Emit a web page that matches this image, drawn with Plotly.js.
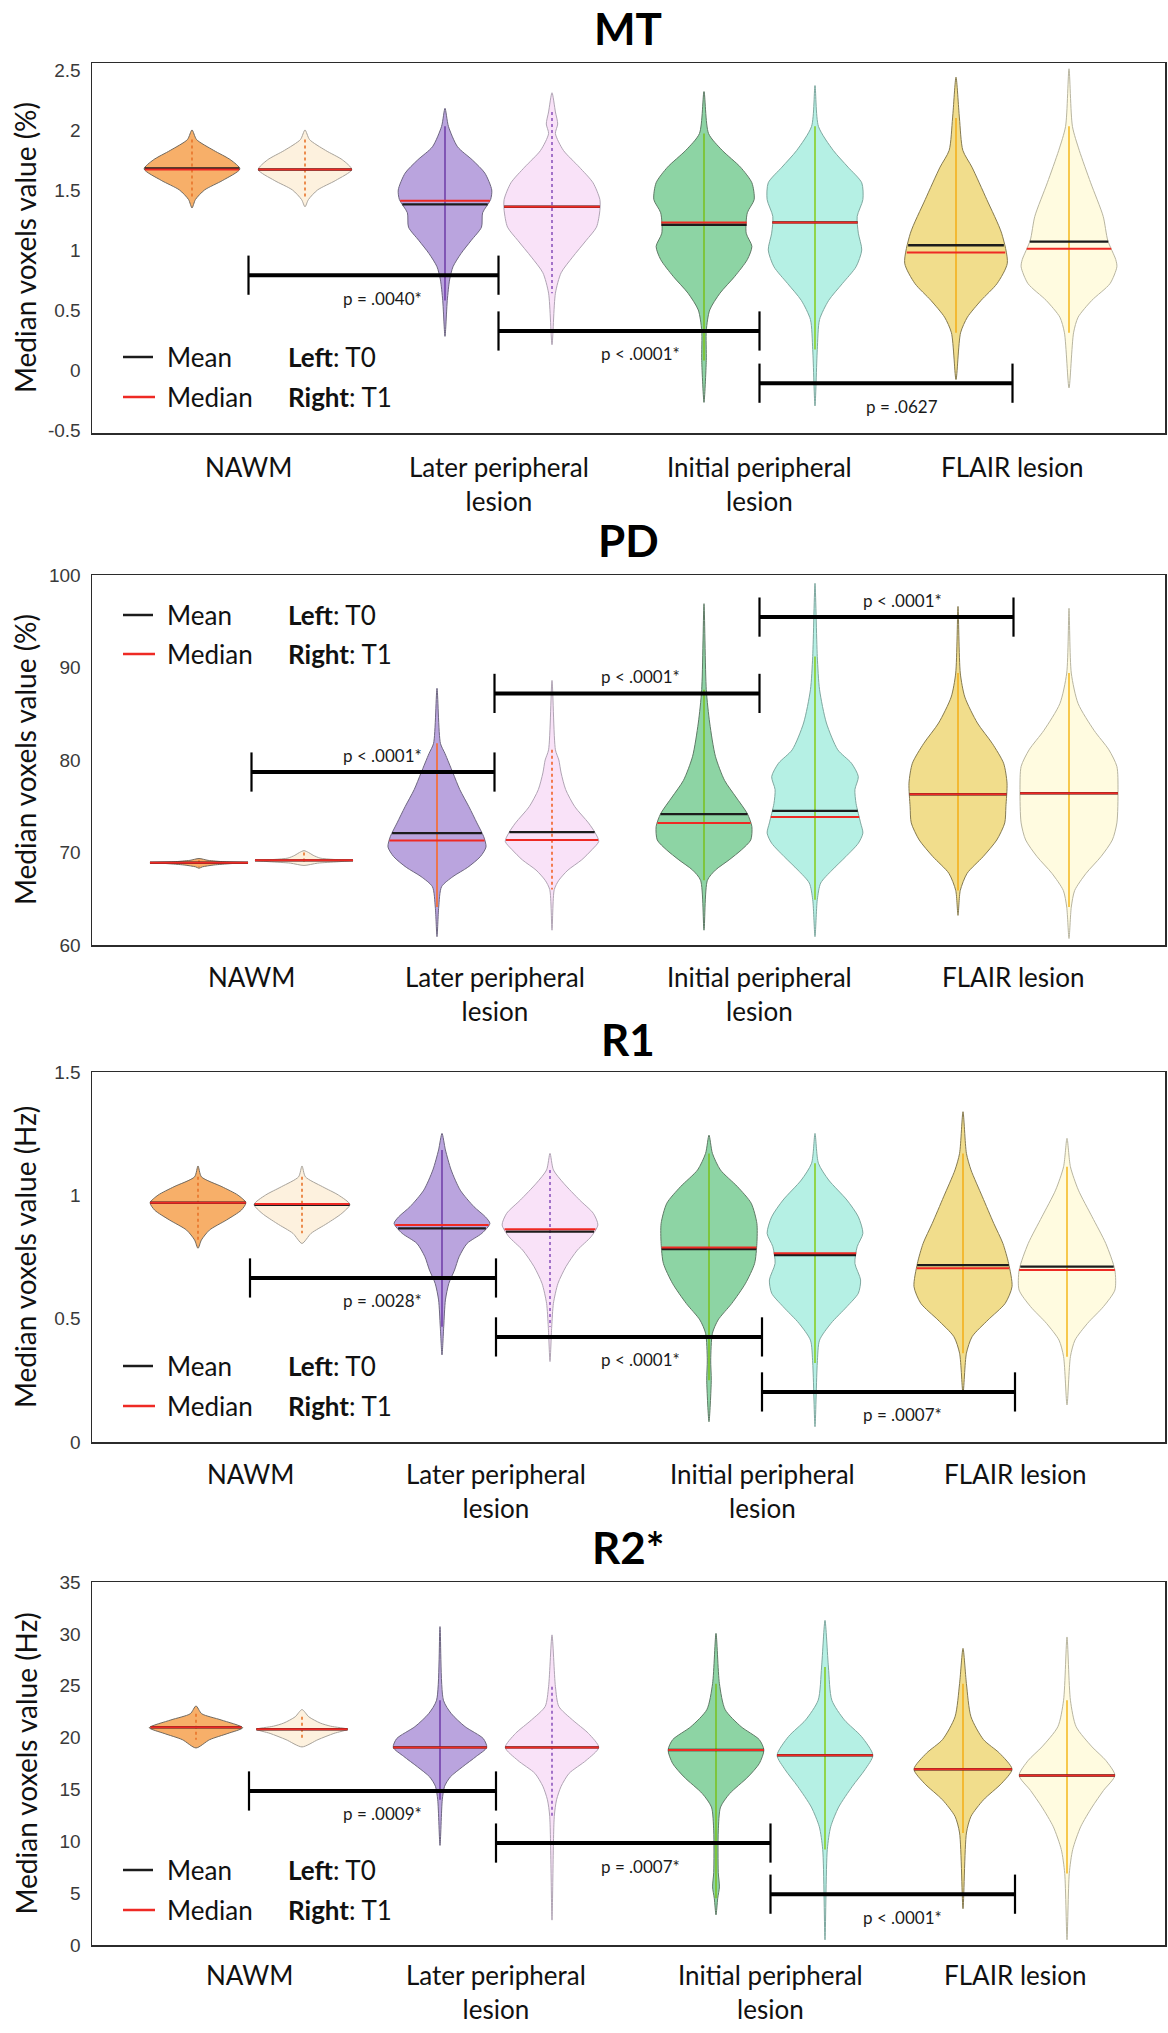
<!DOCTYPE html>
<html><head><meta charset="utf-8">
<script src="https://cdn.plot.ly/plotly-3.0.1.min.js"></script>
<style>html,body{margin:0;padding:0;background:#fff}</style>
</head><body>
<div id="chart" style="width:1168px;height:2033px"></div>
<script>
// ---------------- DATA ----------------
const categories = ["NAWM", "Later peripheral<br>lesion", "Initial peripheral<br>lesion", "FLAIR lesion"];
const panelTitles = ["MT", "PD", "R1", "R2*"];
const yTitles = ["Median voxels value (%)", "Median voxels value (%)", "Median voxels value (Hz)", "Median voxels value (Hz)"];

// Violin density profiles: [value, relative density] from top tip to bottom tip
// order: NAWM T0, NAWM T1, Later T0, Later T1, Initial T0, Initial T1, FLAIR T0, FLAIR T1
const mtDensity = [
 [[2.0,0],[1.92,4],[1.83,19],[1.75,34],[1.675,42],[1.58,27],[1.5,11],[1.42,3],[1.35,0]],
 [[2.0,0],[1.92,4],[1.83,18],[1.75,33],[1.67,41],[1.58,27],[1.5,11],[1.42,3],[1.36,0]],
 [[2.18,0],[2.03,3],[1.86,11],[1.75,24],[1.64,35],[1.5,41],[1.42,40],[1.31,33],[1.19,32],[1.08,23],[0.97,14],[0.86,7],[0.75,4],[0.58,2],[0.28,0]],
 [[2.31,0],[2.15,3],[2.05,5],[1.97,3],[1.83,10],[1.69,24],[1.56,36],[1.42,42],[1.33,42],[1.19,39],[1.08,30],[0.94,18],[0.81,8],[0.64,3],[0.21,0]],
 [[2.32,0],[1.97,4],[1.83,16],[1.69,32],[1.56,42],[1.42,44],[1.31,38],[1.14,37],[1.03,42],[0.92,38],[0.78,27],[0.64,14],[0.5,5],[0.33,2],[0.08,2],[-0.27,0]],
 [[2.37,0],[2.03,3],[1.83,16],[1.69,29],[1.56,41],[1.42,42],[1.28,37],[1.14,38],[1.0,41],[0.86,36],[0.72,24],[0.58,12],[0.42,4],[0.17,2],[-0.3,0]],
 [[2.44,0],[2.1,3],[1.83,6],[1.69,14],[1.42,27],[1.14,40],[0.89,45],[0.72,36],[0.58,22],[0.44,10],[0.31,4],[-0.08,0]],
 [[2.51,0],[2.03,3],[1.83,9],[1.56,19],[1.28,30],[1.08,34],[0.92,41],[0.86,42],[0.72,36],[0.58,20],[0.44,8],[0.31,4],[-0.15,0]]
];
const mtMean   = [1.68, 1.67, 1.38, 1.36, 1.21, 1.23, 1.04, 1.07];
const mtMedian = [1.67, 1.67, 1.41, 1.36, 1.23, 1.23, 0.98, 1.01];

const pdDensity = [
 [[69.35,0],[69.15,8],[69.0,22],[68.9,43],[68.8,28],[68.65,13],[68.45,3],[68.3,0]],
 [[70.2,0],[70.0,4],[69.7,8],[69.4,14],[69.25,26],[69.15,43],[69.0,30],[68.85,12],[68.6,0]],
 [[87.75,0],[81.8,3],[80.7,7],[78.6,14],[76.8,20],[74.95,28],[73.2,35],[71.7,41],[70.6,43],[69.55,38],[68.4,27],[67.4,14],[66.3,4],[64.1,1.5],[60.9,0]],
 [[88.6,0],[81.1,3],[80.0,6],[78.6,8],[76.8,12],[74.95,20],[73.2,32],[72.1,38],[71.2,41],[70.3,35],[69.2,26],[68.1,14],[67.0,6],[66.0,2],[61.6,0]],
 [[96.9,0],[87.6,2],[84.0,5],[80.4,10],[77.8,18],[76.0,28],[74.2,38],[72.8,42],[71.35,41],[70.3,33],[69.2,22],[68.1,10],[67.0,3],[61.6,0]],
 [[99.1,0],[91.2,2],[87.6,4],[84.0,10],[81.1,20],[79.65,32],[78.2,38],[76.8,35],[75.3,36],[73.2,40],[72.1,42],[71.0,38],[69.55,27],[68.1,15],[66.7,5],[64.9,2],[60.9,0]],
 [[96.6,0],[89.4,2],[86.8,6],[84.0,17],[81.8,30],[79.65,40],[77.5,43],[74.95,42],[73.2,41],[71.35,34],[69.55,22],[67.75,8],[65.9,2],[63.2,0]],
 [[96.4,0],[89.4,2],[86.1,8],[83.2,22],[81.1,35],[79.3,42],[76.8,43],[73.2,42],[71.35,38],[69.55,28],[67.75,15],[65.9,5],[64.1,2],[60.7,0]]
];
const pdMean   = [68.9, 69.15, 72.1, 72.2, 74.15, 74.5, 76.3, 76.4];
const pdMedian = [68.9, 69.15, 71.3, 71.35, 73.2, 73.85, 76.3, 76.4];

const r1Density = [
 [[1.119,0],[1.075,3],[1.035,21],[1.001,35],[0.970,42],[0.940,38],[0.900,25],[0.859,10],[0.819,3],[0.785,0]],
 [[1.119,0],[1.075,3],[1.035,18],[1.001,32],[0.963,42],[0.927,35],[0.886,22],[0.846,8],[0.805,0]],
 [[1.251,0],[1.184,3],[1.103,8],[1.021,16],[0.954,28],[0.913,38],[0.886,42],[0.846,35],[0.805,22],[0.751,15],[0.697,11],[0.643,6],[0.576,3],[0.467,1.5],[0.353,0]],
 [[1.170,0],[1.103,3],[1.049,12],[0.981,26],[0.927,38],[0.880,42],[0.832,36],[0.778,24],[0.711,14],[0.643,7],[0.562,3],[0.467,1.5],[0.326,0]],
 [[1.244,0],[1.170,3],[1.103,10],[1.035,25],[0.968,37],[0.886,42],[0.805,42],[0.724,40],[0.643,32],[0.562,20],[0.495,8],[0.441,3],[0.332,1.5],[0.25,2],[0.082,0]],
 [[1.251,0],[1.130,3],[1.062,12],[0.981,28],[0.913,38],[0.846,42],[0.792,37],[0.724,35],[0.657,40],[0.603,38],[0.549,28],[0.481,14],[0.413,4],[0.32,2],[0.062,0]],
 [[1.339,0],[1.170,3],[1.103,7],[0.994,17],[0.886,27],[0.805,35],[0.724,40],[0.630,43],[0.562,37],[0.495,22],[0.427,8],[0.360,3],[0.197,0]],
 [[1.231,0],[1.116,3],[1.021,10],[0.913,22],[0.805,34],[0.697,42],[0.616,42],[0.549,32],[0.481,18],[0.413,7],[0.346,3],[0.150,0]]
];
const r1Mean   = [0.970, 0.962, 0.866, 0.853, 0.782, 0.758, 0.717, 0.711];
const r1Median = [0.970, 0.965, 0.880, 0.863, 0.789, 0.765, 0.704, 0.697];

const r2Density = [
 [[23.05,0],[22.3,5],[21.7,22],[20.95,41],[20.4,28],[19.8,12],[19.0,0]],
 [[22.7,0],[22.0,6],[21.4,16],[21.1,25],[20.8,40],[20.4,28],[19.8,14],[19.1,0]],
 [[30.7,0],[23.6,3],[22.3,10],[21.05,22],[19.9,38],[19.05,41],[18.2,32],[17.2,20],[16.2,9],[15.3,4],[14.0,2],[9.6,0]],
 [[29.9,0],[24.9,3],[23.0,6],[21.7,18],[20.4,32],[19.05,41],[17.8,30],[16.55,15],[15.3,8],[14.0,4],[12.4,2],[2.4,0]],
 [[30.05,0],[25.2,3],[22.7,8],[21.05,22],[19.8,38],[18.8,42],[17.5,38],[16.2,28],[14.6,12],[13.3,4],[11.0,2],[7.0,2],[5.6,3],[4.5,1.5],[2.9,0]],
 [[31.3,0],[26.8,3],[23.6,6],[21.7,17],[20.1,32],[18.3,42],[16.9,35],[15.3,24],[13.3,12],[11.4,5],[9.2,2],[0.5,0]],
 [[28.6,0],[25.2,3],[22.0,7],[19.8,18],[18.5,32],[16.95,43],[15.6,34],[14.0,18],[12.4,7],[10.8,3],[3.5,0]],
 [[29.7,0],[23.6,3],[21.05,8],[19.1,22],[17.8,34],[16.35,42],[14.9,32],[13.3,22],[11.4,12],[9.2,5],[6.9,2],[0.5,0]]
];
const r2Mean   = [21.0, 20.8, 19.05, 19.05, 18.8, 18.3, 16.95, 16.35];
const r2Median = [21.0, 20.8, 19.05, 19.05, 18.8, 18.3, 16.95, 16.35];

// significance brackets (between consecutive categories)
const mtBracketY = [0.79, 0.325, -0.11];
const mtPValues  = ["p = .0040*", "p < .0001*", "p = .0627"];
const pdBracketY = [78.7, 87.2, 95.45];
const pdPValues  = ["p < .0001*", "p < .0001*", "p < .0001*"];
const r1BracketY = [0.665, 0.426, 0.203];
const r1PValues  = ["p = .0028*", "p < .0001*", "p = .0007*"];
const r2BracketY = [14.85, 9.83, 4.9];
const r2PValues  = ["p = .0009*", "p = .0007*", "p < .0001*"];

// tick labels
const mtTicks = [-0.5, 0, 0.5, 1, 1.5, 2, 2.5];
const mtTickText = ["-0.5", "0", "0.5", "1", "1.5", "2", "2.5"];
const pdTicks = [60, 70, 80, 90, 100];
const pdTickText = ["60", "70", "80", "90", "100"];
const r1Ticks = [0, 0.5, 1, 1.5];
const r1TickText = ["0", "0.5", "1", "1.5"];
const r2Ticks = [0, 5, 10, 15, 20, 25, 30, 35];
const r2TickText = ["0", "5", "10", "15", "20", "25", "30", "35"];

// ---------------- LAYOUT / STYLE ----------------
const W = 1168, H = 2033;
const BOX_L = 92, BOX_R = 1165;
// violin slot positions per panel (x-axis units)
const slotsMT = [1.92, 3.05, 4.45, 5.52, 7.04, 8.15, 9.56, 10.69];
const slotsPD = [1.99, 3.04, 4.37, 5.52, 7.04, 8.15, 9.58, 10.69];
const slotsR1 = [1.98, 3.02, 4.42, 5.50, 7.09, 8.15, 9.63, 10.67];
const slotsR2 = [1.96, 3.02, 4.40, 5.52, 7.16, 8.25, 9.63, 10.67];
const pLabelX = [3.82, 6.40, 9.02];
const DSCALE = 0.0114;
const fills = ['#F7AF69', '#FDF1DE', '#BAA4DE', '#F9E2F8', '#8DD4A4', '#B5F0E4', '#F1DD8C', '#FFFBE0'];
const outlines = ['#70695f', '#a8a39b', '#6d6680', '#b0a4b4', '#5f7a66', '#7fa8a0', '#857a50', '#b8b5a0'];
const centerCols = ['#E8742A', '#E8742A', '#7B4CB0', '#9A66C4', '#7CC433', '#8CD23A', '#F3B52A', '#F6C23E'];
const FONT = 'Lato, "Open Sans", sans-serif';
const TFONT = 'Arial, "Liberation Sans", sans-serif';

const panels = [
 {slots: slotsMT, density: mtDensity, mean: mtMean, median: mtMedian, by: mtBracketY, pv: mtPValues, above: false,
  range: [-0.525, 2.558], tv: mtTicks, tt: mtTickText, box: [63, 433], titleY: 28, labelTop: 449, legY: [357, 397]},
 {slots: slotsPD, density: pdDensity, mean: pdMean, median: pdMedian, by: pdBracketY, pv: pdPValues, above: true,
  range: [60, 100], tv: pdTicks, tt: pdTickText, box: [575, 945], titleY: 540, labelTop: 959, legY: [615, 654]},
 {slots: slotsR1, density: r1Density, mean: r1Mean, median: r1Median, by: r1BracketY, pv: r1PValues, above: false,
  range: [0, 1.5], tv: r1Ticks, tt: r1TickText, box: [1072, 1442], titleY: 1039, labelTop: 1456, legY: [1366, 1406]},
 {slots: slotsR2, density: r2Density, mean: r2Mean, median: r2Median, by: r2BracketY, pv: r2PValues, above: false,
  range: [0, 35], tv: r2Ticks, tt: r2TickText, box: [1582, 1945], titleY: 1547, labelTop: 1957, legY: [1870, 1910]}
];

const py = p => 1 - p / H;
const pxp = p => (p - BOX_L) / (BOX_R - BOX_L);

function halfWidthAt(prof, v) {
  for (let i = 0; i < prof.length - 1; i++) {
    const a = prof[i], b = prof[i+1];
    if (v <= a[0] && v >= b[0]) {
      const t = (a[0] - v) / (a[0] - b[0] || 1);
      return (a[1] + t * (b[1] - a[1])) * DSCALE;
    }
  }
  return 0;
}

const traces = [];
const annotations = [];
const shapes = [];
const layout = {
  width: W, height: H, margin: {l: BOX_L, r: W - BOX_R, t: 0, b: 0},
  paper_bgcolor: '#fff', plot_bgcolor: '#fff', showlegend: false,
  annotations, shapes
};

panels.forEach((P, k) => {
  const sfx = k === 0 ? '' : String(k + 1);
  const xa = 'x' + sfx, ya = 'y' + sfx;
  const slots = P.slots;
  const groupPos = [0, 1, 2, 3].map(g => (slots[2*g] + slots[2*g+1]) / 2);
  layout['xaxis' + sfx] = {
    domain: [0, 1], anchor: ya, range: [BOX_L / 100, BOX_R / 100], showgrid: false, zeroline: false,
    showticklabels: false, ticks: '', showline: true, mirror: true, linecolor: '#2b2b2b', linewidth: 1.5, fixedrange: true
  };
  layout['yaxis' + sfx] = {
    domain: [py(P.box[1]), py(P.box[0])], anchor: xa, range: P.range, showgrid: false, zeroline: false,
    tickmode: 'array', tickvals: P.tv, ticktext: P.tt, ticks: '', ticklabelstandoff: 6,
    tickfont: {family: TFONT, size: 19, color: '#3a3a3a'},
    showline: true, mirror: true, linecolor: '#2b2b2b', linewidth: 1.5, fixedrange: true
  };

  // violins
  P.density.forEach((prof, i) => {
    const c = slots[i];
    const xs = [], ys = [];
    prof.forEach(([v, d]) => { xs.push(c + d * DSCALE); ys.push(v); });
    for (let j = prof.length - 2; j >= 1; j--) { xs.push(c - prof[j][1] * DSCALE); ys.push(prof[j][0]); }
    xs.push(xs[0]); ys.push(ys[0]);
    traces.push({type: 'scatter', mode: 'lines', x: xs, y: ys, xaxis: xa, yaxis: ya, fill: 'toself',
      fillcolor: fills[i], line: {color: outlines[i], width: 1, shape: 'spline', smoothing: 0.7}, hoverinfo: 'skip'});
  });
  // center lines
  P.density.forEach((prof, i) => {
    const c = slots[i];
    const isNawm = i < 2;
    let col = centerCols[i];
    if (k === 1 && (i === 2 || i === 3)) col = '#F2703E';
    const top = prof[1][0], bot = prof[prof.length - 2][0];
    traces.push({type: 'scatter', mode: 'lines', x: [c, c], y: [top, bot], xaxis: xa, yaxis: ya,
      line: {color: col, width: isNawm ? 1.6 : 1.8, dash: (isNawm || i === 3) ? 'dot' : 'solid'}, hoverinfo: 'skip'});
  });
  // mean and median lines
  const mx = [], my = [], dx = [], dy = [];
  P.density.forEach((prof, i) => {
    const c = slots[i];
    const hm = halfWidthAt(prof, P.mean[i]);
    mx.push(c - hm, c + hm, null); my.push(P.mean[i], P.mean[i], null);
    const hd = halfWidthAt(prof, P.median[i]);
    dx.push(c - hd, c + hd, null); dy.push(P.median[i], P.median[i], null);
  });
  traces.push({type: 'scatter', mode: 'lines', x: mx, y: my, xaxis: xa, yaxis: ya,
    line: {color: '#1c1c1c', width: 2.4}, hoverinfo: 'skip'});
  traces.push({type: 'scatter', mode: 'lines', x: dx, y: dy, xaxis: xa, yaxis: ya,
    line: {color: '#EE2A24', width: 2}, hoverinfo: 'skip'});

  // brackets
  P.by.forEach((yv, b) => {
    traces.push({type: 'scatter', mode: 'lines+markers', x: [groupPos[b], groupPos[b+1]], y: [yv, yv],
      xaxis: xa, yaxis: ya, line: {color: '#000', width: 4},
      marker: {symbol: 'line-ns-open', size: 28, line: {color: '#000', width: 2.2}}, hoverinfo: 'skip'});
    annotations.push({xref: xa, yref: ya, x: pLabelX[b], y: yv, text: P.pv[b], showarrow: false,
      yshift: P.above ? 17 : -23, font: {family: FONT, size: 17, color: '#1a1a1a'}});
  });

  // category labels
  categories.forEach((cat, g) => {
    annotations.push({xref: xa, yref: 'paper', x: groupPos[g], y: py(P.labelTop), yanchor: 'top',
      text: cat, showarrow: false, font: {family: FONT, size: 26, color: '#111'}});
  });

  // panel title
  annotations.push({xref: 'paper', yref: 'paper', x: pxp(628), y: py(P.titleY),
    xanchor: 'center', yanchor: 'middle', text: '<b>' + panelTitles[k] + '</b>', showarrow: false,
    font: {family: FONT, size: 44, color: '#000'}});

  // y title (rotated text)
  annotations.push({xref: 'paper', yref: 'paper', x: pxp(25), y: py((P.box[0] + P.box[1]) / 2),
    xanchor: 'center', yanchor: 'middle', textangle: -90, text: yTitles[k], showarrow: false,
    font: {family: FONT, size: 28, color: '#111'}});

  // legend block
  shapes.push({type: 'line', xref: 'paper', yref: 'paper', x0: pxp(123), x1: pxp(153), y0: py(P.legY[0]), y1: py(P.legY[0]),
    line: {color: '#1c1c1c', width: 2.5}});
  shapes.push({type: 'line', xref: 'paper', yref: 'paper', x0: pxp(123), x1: pxp(155), y0: py(P.legY[1]), y1: py(P.legY[1]),
    line: {color: '#EE2A24', width: 2.5}});
  const legText = [['Mean', '<b>Left</b>: T0'], ['Median', '<b>Right</b>: T1']];
  legText.forEach((row, r) => {
    annotations.push({xref: 'paper', yref: 'paper', x: pxp(165), y: py(P.legY[r]),
      xanchor: 'left', yanchor: 'middle', text: row[0], showarrow: false, font: {family: FONT, size: 26, color: '#111'}});
    annotations.push({xref: 'paper', yref: 'paper', x: pxp(286), y: py(P.legY[r]),
      xanchor: 'left', yanchor: 'middle', text: row[1], showarrow: false, font: {family: FONT, size: 26, color: '#111'}});
  });
});

Plotly.newPlot('chart', traces, layout, {staticPlot: true, displayModeBar: false});
</script>
</body></html>
